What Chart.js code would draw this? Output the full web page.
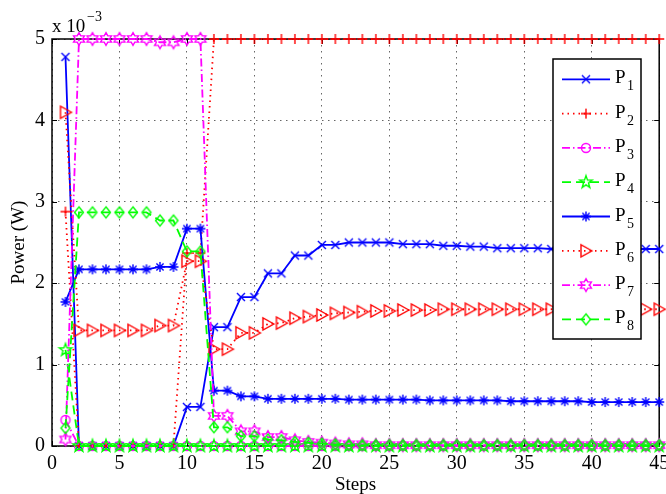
<!DOCTYPE html>
<html>
<head>
<meta charset="utf-8">
<script src="https://cdn.jsdelivr.net/npm/chart.js@4.4.1/dist/chart.umd.min.js"></script>
<style>
  html, body { margin: 0; padding: 0; background: #fff; }
  #wrap { width: 666px; height: 494px; }
</style>
</head>
<body>
<div id="wrap"><canvas id="c" width="666" height="494"></canvas></div>
<script>
// Iteration steps
const steps = [1, 2, 3, 4, 5, 6, 7, 8, 9, 10, 11, 12, 13, 14, 15, 16, 17, 18, 19, 20,
  21, 22, 23, 24, 25, 26, 27, 28, 29, 30, 31, 32, 33, 34, 35, 36, 37, 38, 39, 40,
  41, 42, 43, 44, 45];

// Transmit power of each user, in units of 1e-3 W
const p1 = [4.78, 0, 0, 0, 0, 0, 0, 0, 0, 0.48, 0.48, 1.46, 1.46, 1.83, 1.83, 2.12, 2.12,
  2.34, 2.34, 2.47, 2.47, 2.50, 2.50, 2.50, 2.50, 2.48, 2.48, 2.48, 2.46, 2.46, 2.45, 2.45,
  2.43, 2.43, 2.43, 2.43, 2.42, 2.42, 2.42, 2.42, 2.42, 2.42, 2.42, 2.42, 2.42];
const p2 = [2.88, 0, 0, 0, 0, 0, 0, 0, 0, 2.37, 2.37, 5, 5, 5, 5, 5, 5, 5, 5, 5, 5, 5, 5,
  5, 5, 5, 5, 5, 5, 5, 5, 5, 5, 5, 5, 5, 5, 5, 5, 5, 5, 5, 5, 5, 5];
const p3 = [0.32, 0, 0, 0, 0, 0, 0, 0, 0, 0, 0, 0, 0, 0, 0, 0, 0, 0, 0, 0, 0, 0, 0,
  0, 0, 0, 0, 0, 0, 0, 0, 0, 0, 0, 0, 0, 0, 0, 0, 0, 0, 0, 0, 0, 0];
const p4 = [1.18, 0, 0, 0, 0, 0, 0, 0, 0, 0, 0, 0, 0, 0, 0, 0, 0, 0, 0, 0, 0, 0, 0,
  0, 0, 0, 0, 0, 0, 0, 0, 0, 0, 0, 0, 0, 0, 0, 0, 0, 0, 0, 0, 0, 0];
const p5 = [1.77, 2.17, 2.17, 2.17, 2.17, 2.17, 2.17, 2.20, 2.20, 2.67, 2.67, 0.68, 0.68,
  0.61, 0.61, 0.58, 0.58, 0.58, 0.58, 0.58, 0.58, 0.57, 0.57, 0.57, 0.57, 0.57, 0.57,
  0.56, 0.56, 0.56, 0.56, 0.56, 0.56, 0.55, 0.55, 0.55, 0.55, 0.55, 0.55,
  0.54, 0.54, 0.54, 0.54, 0.54, 0.54];
const p6 = [4.10, 1.42, 1.42, 1.42, 1.42, 1.42, 1.42, 1.48, 1.48, 2.27, 2.27, 1.19, 1.19,
  1.39, 1.39, 1.50, 1.51, 1.57, 1.59, 1.61, 1.63, 1.64, 1.65, 1.66, 1.66, 1.67, 1.67, 1.67,
  1.68, 1.68, 1.68, 1.68, 1.68, 1.68, 1.68, 1.68, 1.68, 1.68, 1.68, 1.68, 1.68, 1.68,
  1.68, 1.68, 1.68];
const p7 = [0.08, 5, 5, 5, 5, 5, 5, 4.96, 4.96, 5, 5, 0.37, 0.37, 0.18, 0.18, 0.11, 0.11,
  0.07, 0.05, 0.04, 0.03, 0.02, 0.02, 0.01, 0.01, 0.01, 0.01, 0.01, 0.01, 0.01, 0.01,
  0.01, 0.01, 0.01, 0.01, 0.01, 0.01, 0.01, 0.01, 0.01, 0.01, 0.01, 0.01, 0.01, 0.01];
const p8 = [0.22, 2.87, 2.87, 2.87, 2.87, 2.87, 2.87, 2.77, 2.77, 2.39, 2.39, 0.23, 0.23,
  0.12, 0.12, 0.08, 0.07, 0.05, 0.04, 0.03, 0.02, 0.01, 0.01, 0.01, 0.01, 0.01, 0.01,
  0.01, 0.01, 0.01, 0.01, 0.01, 0.01, 0.01, 0.01, 0.01, 0.01, 0.01, 0.01, 0.01, 0.01,
  0.01, 0.01, 0.01, 0.01];

const seriesNames = ['P1', 'P2', 'P3', 'P4', 'P5', 'P6', 'P7', 'P8'];
const seriesValues = [p1, p2, p3, p4, p5, p6, p7, p8];

// Axis ticks
const xTicks = [0, 5, 10, 15, 20, 25, 30, 35, 40, 45];
const yTicks = [0, 1, 2, 3, 4, 5];

// ---- styling ----
const SERIF = '"Liberation Serif", "DejaVu Serif", serif';
const BLUE = '#0000ff', RED = '#ff0000', MAG = '#ff00ff', GRN = '#00ff00';
const DOT = [1.5, 4], DASHDOT = [8, 3, 1.5, 3], DASH = [9, 5];
const styles = [
  { color: BLUE, dash: [], marker: 'x' },
  { color: RED, dash: DOT, marker: 'plus' },
  { color: MAG, dash: DASHDOT, marker: 'circle' },
  { color: GRN, dash: DASH, marker: 'pentagram' },
  { color: BLUE, dash: [], marker: 'asterisk' },
  { color: RED, dash: DOT, marker: 'triRight' },
  { color: MAG, dash: DASHDOT, marker: 'hexagram' },
  { color: GRN, dash: DASH, marker: 'diamond' }
];

function starPath(g, n, ro, ri) {
  for (let k = 0; k < 2 * n; k++) {
    const r = k % 2 ? ri : ro;
    const a = -Math.PI / 2 + k * Math.PI / n;
    const px = r * Math.cos(a), py = r * Math.sin(a);
    if (k === 0) g.moveTo(px, py); else g.lineTo(px, py);
  }
  g.closePath();
}

function markerCanvas(kind, color) {
  const c = document.createElement('canvas');
  c.width = 20; c.height = 20;
  const g = c.getContext('2d');
  g.translate(10, 10);
  g.strokeStyle = color;
  g.lineWidth = 1.4;
  g.beginPath();
  switch (kind) {
    case 'x':
      g.moveTo(-4, -4); g.lineTo(4, 4); g.moveTo(-4, 4); g.lineTo(4, -4); break;
    case 'plus':
      g.moveTo(-5, 0); g.lineTo(5, 0); g.moveTo(0, -5); g.lineTo(0, 5); break;
    case 'circle':
      g.arc(0, 0, 4.5, 0, Math.PI * 2); break;
    case 'pentagram':
      starPath(g, 5, 6.5, 2.6); break;
    case 'asterisk':
      g.moveTo(-5, 0); g.lineTo(5, 0); g.moveTo(0, -5); g.lineTo(0, 5);
      g.moveTo(-3.6, -3.6); g.lineTo(3.6, 3.6); g.moveTo(-3.6, 3.6); g.lineTo(3.6, -3.6); break;
    case 'triRight':
      g.moveTo(6, 0); g.lineTo(-5, -6); g.lineTo(-5, 6); g.closePath(); break;
    case 'hexagram':
      starPath(g, 6, 6.3, 3.6); break;
    case 'diamond':
      g.moveTo(0, -5.5); g.lineTo(4.5, 0); g.lineTo(0, 5.5); g.lineTo(-4.5, 0); g.closePath(); break;
  }
  g.stroke();
  return c;
}

const markers = styles.map(s => markerCanvas(s.marker, s.color));

const datasets = seriesValues.map((vals, i) => ({
  label: seriesNames[i],
  data: steps.map((s, j) => ({ x: s, y: vals[j] })),
  borderColor: styles[i].color,
  backgroundColor: styles[i].color,
  borderWidth: 1.8,
  borderDash: styles[i].dash,
  pointStyle: markers[i],
  pointRadius: 5,
  pointHoverRadius: 5,
  tension: 0,
  fill: false,
  clip: false,
  order: seriesNames.length - i
}));

// Axes box with inward tick marks, drawn under the data
const boxPlugin = {
  id: 'box',
  beforeDatasetsDraw(chart) {
    const { ctx, chartArea: a, scales } = chart;
    ctx.save();
    ctx.strokeStyle = '#000';
    ctx.lineWidth = 1.5;
    ctx.strokeRect(a.left, a.top, a.right - a.left, a.bottom - a.top);
    ctx.lineWidth = 1;
    ctx.beginPath();
    const tl = 5;
    xTicks.forEach(v => {
      const px = Math.round(scales.x.getPixelForValue(v)) + 0.5;
      ctx.moveTo(px, a.bottom); ctx.lineTo(px, a.bottom - tl);
      ctx.moveTo(px, a.top); ctx.lineTo(px, a.top + tl);
    });
    yTicks.forEach(v => {
      const py = Math.round(scales.y.getPixelForValue(v)) + 0.5;
      ctx.moveTo(a.left, py); ctx.lineTo(a.left + tl, py);
      ctx.moveTo(a.right, py); ctx.lineTo(a.right - tl, py);
    });
    ctx.stroke();
    ctx.restore();
  },
  afterDraw(chart) {
    const { ctx, chartArea: a } = chart;
    ctx.save();
    ctx.fillStyle = '#000';
    // exponent of the y axis
    ctx.font = '19px ' + SERIF;
    ctx.textAlign = 'left';
    ctx.textBaseline = 'alphabetic';
    ctx.fillText('x 10', a.left, 32);
    ctx.font = '14px ' + SERIF;
    ctx.fillText('\u22123', a.left + 35, 21);
    // axis titles
    ctx.font = '19px ' + SERIF;
    ctx.textAlign = 'center';
    ctx.fillText('Steps', (a.left + a.right) / 2, 490);
    ctx.translate(24, (a.top + a.bottom) / 2);
    ctx.rotate(-Math.PI / 2);
    ctx.fillText('Power (W)', 0, 0);
    ctx.restore();

    // legend
    const L = { left: 553, top: 59, right: 641, bottom: 339 };
    ctx.save();
    ctx.fillStyle = '#fff';
    ctx.fillRect(L.left, L.top, L.right - L.left, L.bottom - L.top);
    ctx.strokeStyle = '#000';
    ctx.lineWidth = 1.5;
    ctx.strokeRect(L.left, L.top, L.right - L.left, L.bottom - L.top);
    seriesNames.forEach((name, i) => {
      const y = 79.3 + i * 34.3;
      ctx.save();
      ctx.strokeStyle = styles[i].color;
      ctx.lineWidth = 1.8;
      ctx.setLineDash(styles[i].dash);
      ctx.beginPath();
      ctx.moveTo(562, y); ctx.lineTo(610, y);
      ctx.stroke();
      ctx.restore();
      ctx.drawImage(markers[i], 586 - 10, y - 10);
      ctx.fillStyle = '#000';
      ctx.textAlign = 'left';
      ctx.font = '19px ' + SERIF;
      ctx.fillText(name.charAt(0), 615, y + 4);
      ctx.font = '14px ' + SERIF;
      ctx.fillText(name.slice(1), 627, y + 11);
    });
    ctx.restore();
  }
};

new Chart(document.getElementById('c'), {
  type: 'line',
  data: { datasets },
  options: {
    responsive: false,
    animation: false,
    events: [],
    layout: { padding: { top: 39, right: 4, left: 0, bottom: 0 } },
    plugins: { legend: { display: false }, tooltip: { enabled: false } },
    scales: {
      x: {
        type: 'linear', min: 0, max: 45,
        afterFit(s) { s.height = 48; s.paddingLeft = 0; s.paddingRight = 0; },
        afterBuildTicks(s) { s.ticks = xTicks.map(v => ({ value: v })); },
        ticks: { color: '#000', font: { family: SERIF, size: 20 }, padding: 6, maxRotation: 0, autoSkip: false },
        grid: { color: 'rgba(0,0,0,0.6)', lineWidth: 1, drawTicks: false },
        border: { display: false, dash: [1.5, 4.5] }
      },
      y: {
        type: 'linear', min: 0, max: 5,
        afterFit(s) { s.width = 52; s.paddingTop = 0; s.paddingBottom = 0; },
        afterBuildTicks(s) { s.ticks = yTicks.map(v => ({ value: v })); },
        ticks: { color: '#000', font: { family: SERIF, size: 20 }, padding: 7 },
        grid: { color: 'rgba(0,0,0,0.6)', lineWidth: 1, drawTicks: false },
        border: { display: false, dash: [1.5, 4.5] }
      }
    }
  },
  plugins: [boxPlugin]
});
</script>
</body>
</html>
